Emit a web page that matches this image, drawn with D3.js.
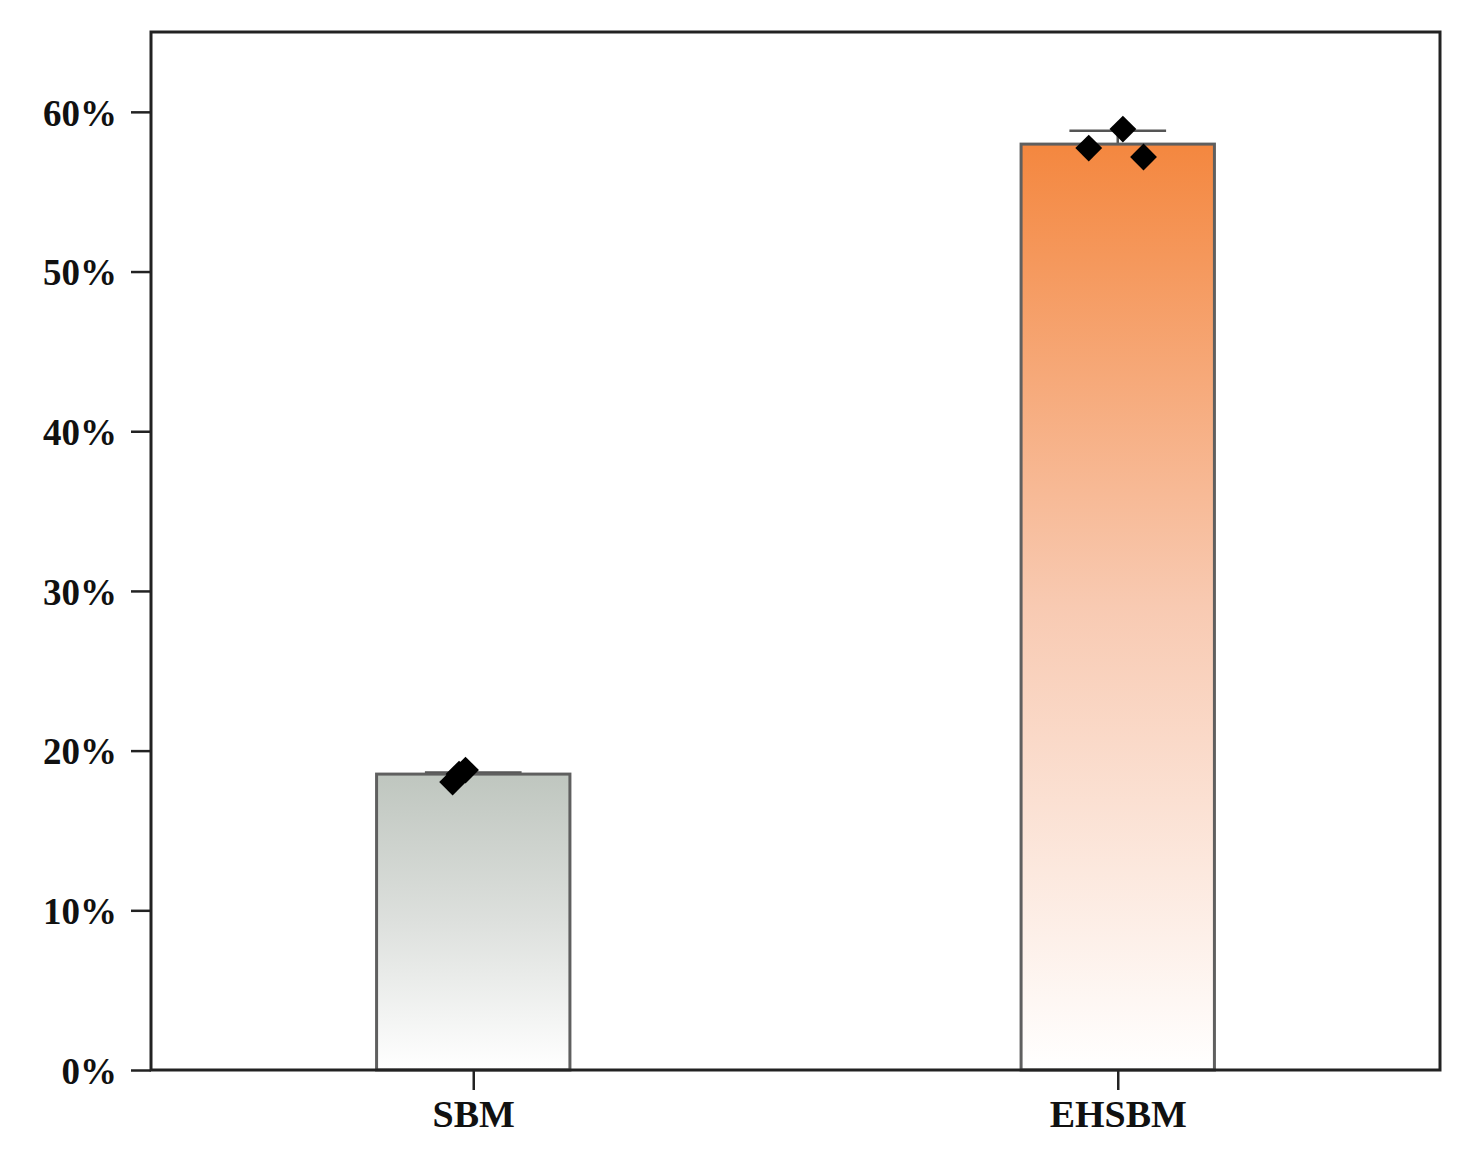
<!DOCTYPE html>
<html>
<head>
<meta charset="utf-8">
<script src="https://cdn.jsdelivr.net/npm/d3@7"></script>
<style>
  html, body { margin: 0; padding: 0; background: #fff; }
  svg { display: block; }
  text { font-family: "Liberation Serif", "Times New Roman", serif; font-weight: bold; fill: #111; }
</style>
</head>
<body>
<svg id="chart" width="1467" height="1166"></svg>
<script>
// ---- data ----
const categories = ["SBM", "EHSBM"];
const means = [0.1853, 0.5798];
const errors = [0.0010, 0.0083];
const topColors = ["#bfc6bf", "#f4873f"];
const midColors = ["#dde0dd", "#f8cab2"];
const sbmPoints = [0.1803, 0.1853, 0.1878];
const sbmJitter = [-0.032, -0.022, -0.012];
const ehsbmPoints = [0.5773, 0.5892, 0.5717];
const ehsbmJitter = [-0.045, 0.008, 0.040];
const yTicks = [0, 0.1, 0.2, 0.3, 0.4, 0.5, 0.6];

// ---- layout ----
const svg = d3.select("#chart");
const mLeft = 151, mRight = 1440, mTop = 32, mBottom = 1070;

const x = d3.scaleLinear().domain([-0.5, 1.5]).range([mLeft, mRight]);
const y = d3.scaleLinear().domain([0, 0.65]).range([mBottom, mTop]);
const barW = 0.3;

const defs = svg.append("defs");
categories.forEach((c, i) => {
  const g = defs.append("linearGradient")
    .attr("id", "grad" + i)
    .attr("x1", 0).attr("y1", 0).attr("x2", 0).attr("y2", 1);
  g.append("stop").attr("offset", "0%").attr("stop-color", topColors[i]);
  g.append("stop").attr("offset", "50%").attr("stop-color", midColors[i]);
  g.append("stop").attr("offset", "100%").attr("stop-color", "#ffffff");
});

// error bars (behind bars)
categories.forEach((c, i) => {
  const cx = x(i);
  const hw = (x(0.075) - x(0));
  svg.append("line")
    .attr("x1", cx).attr("x2", cx)
    .attr("y1", y(means[i] - errors[i])).attr("y2", y(means[i] + errors[i]))
    .attr("stroke", "#555").attr("stroke-width", 2.5);
  [means[i] - errors[i], means[i] + errors[i]].forEach(v => {
    svg.append("line")
      .attr("x1", cx - hw).attr("x2", cx + hw)
      .attr("y1", y(v)).attr("y2", y(v))
      .attr("stroke", "#555").attr("stroke-width", 2.5);
  });
});

// bars
svg.selectAll("rect.bar").data(categories).enter().append("rect")
  .attr("class", "bar")
  .attr("x", (d, i) => x(i - barW / 2))
  .attr("width", (d, i) => x(barW) - x(0))
  .attr("y", (d, i) => y(means[i]))
  .attr("height", (d, i) => y(0) - y(means[i]))
  .attr("fill", (d, i) => "url(#grad" + i + ")")
  .attr("stroke", "#5f5f5f")
  .attr("stroke-width", 3);

// points (diamonds = rotated squares)
const diamond = d3.symbol().type(d3.symbolSquare).size(360);
const pts = [];
sbmPoints.forEach((v, j) => pts.push({ i: 0, v, dx: sbmJitter[j] }));
ehsbmPoints.forEach((v, j) => pts.push({ i: 1, v, dx: ehsbmJitter[j] }));
svg.selectAll("path.pt").data(pts).enter().append("path")
  .attr("class", "pt")
  .attr("d", diamond)
  .attr("transform", d => `translate(${x(d.i + d.dx)},${y(d.v)}) rotate(45)`)
  .attr("fill", "#000");

// frame
svg.append("rect")
  .attr("x", mLeft).attr("y", mTop)
  .attr("width", mRight - mLeft).attr("height", mBottom - mTop)
  .attr("fill", "none").attr("stroke", "#222").attr("stroke-width", 3);

// y axis
const yAxis = d3.axisLeft(y).tickValues(yTicks).tickFormat(d3.format(".0%"))
  .tickSize(20).tickPadding(14);
const gy = svg.append("g").attr("transform", `translate(${mLeft},0)`).call(yAxis);
gy.select(".domain").remove();
gy.selectAll(".tick line").attr("stroke", "#222").attr("stroke-width", 2.5);
gy.selectAll(".tick text")
  .style("font-family", '"Liberation Serif", "Times New Roman", serif')
  .style("font-weight", "bold").style("font-size", "37px").attr("fill", "#111")
  .attr("dy", "0.36em");

// x axis
const xAxis = d3.axisBottom(x).tickValues([0, 1]).tickFormat(i => categories[i])
  .tickSize(20).tickPadding(10);
const gx = svg.append("g").attr("transform", `translate(0,${mBottom})`).call(xAxis);
gx.select(".domain").remove();
gx.selectAll(".tick line").attr("stroke", "#222").attr("stroke-width", 2.5);
gx.selectAll(".tick text")
  .style("font-family", '"Liberation Serif", "Times New Roman", serif')
  .style("font-weight", "bold").style("font-size", "38px").attr("fill", "#111");
</script>
</body>
</html>
